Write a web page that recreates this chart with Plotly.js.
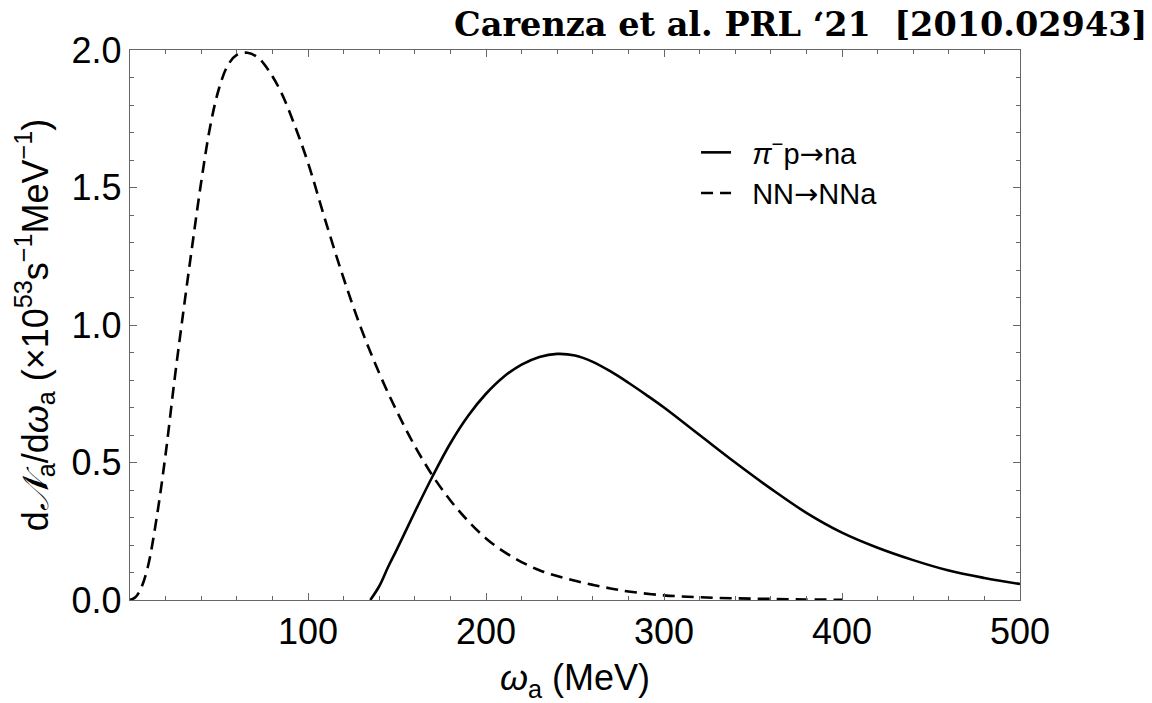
<!DOCTYPE html>
<html>
<head>
<meta charset="utf-8">
<script src="https://cdn.plot.ly/plotly-3.0.1.min.js"></script>
<style>html,body{margin:0;padding:0;background:#fff;}#chart{width:1152px;height:703px;}</style>
</head>
<body>
<div id="chart"></div>
<script>
// omega_a (MeV) and dN_a/domega_a (x10^53 s^-1 MeV^-1)
const nnOmega = [0, 3, 6, 10, 15, 20, 25, 30, 35, 40, 45, 50, 55, 60, 66, 72, 78, 85, 92, 100, 110, 120, 130, 140, 150, 160, 170, 180, 190, 200, 210, 220, 230, 240, 250, 260, 270, 280, 300, 320, 340, 360, 380, 400];
const nnRate  = [0, 0.01, 0.04, 0.12, 0.30, 0.53, 0.80, 1.05, 1.29, 1.52, 1.72, 1.86, 1.945, 1.982, 1.99, 1.972, 1.925, 1.845, 1.735, 1.59, 1.375, 1.17, 0.985, 0.825, 0.685, 0.56, 0.452, 0.362, 0.287, 0.224, 0.176, 0.138, 0.108, 0.087, 0.07, 0.055, 0.042, 0.031, 0.017, 0.010, 0.006, 0.004, 0.002, 0.001];

const piOmega = [135, 140, 145, 150, 160, 170, 180, 190, 200, 210, 220, 230, 240, 250, 260, 270, 280, 290, 300, 320, 340, 360, 380, 400, 420, 440, 460, 480, 500];
const piRate  = [0, 0.05, 0.12, 0.185, 0.32, 0.45, 0.57, 0.67, 0.75, 0.812, 0.856, 0.884, 0.895, 0.889, 0.866, 0.831, 0.79, 0.746, 0.70, 0.60, 0.50, 0.405, 0.317, 0.245, 0.19, 0.145, 0.107, 0.08, 0.058];

const xTicks = [100, 200, 300, 400, 500];
const yTicks = [0, 0.5, 1.0, 1.5, 2.0];

const arrow = '<span style="font-family:DejaVu Sans">→</span>';
const seriesNames = ['&nbsp;&nbsp;<i>π</i><sup>−</sup>p' + arrow + 'na', '&nbsp;&nbsp;NN' + arrow + 'NNa'];
const titleText = '<b>Carenza et al. PRL ‘21  [2010.02943]</b>';

const sans = 'Liberation Sans, Arial, Helvetica, sans-serif';

const traces = [
  {x: piOmega, y: piRate, mode: 'lines', name: seriesNames[0],
   line: {color: '#000', width: 2.6, shape: 'spline', smoothing: 1}},
  {x: nnOmega, y: nnRate, mode: 'lines', name: seriesNames[1],
   line: {color: '#000', width: 2.6, dash: '12px,7px', shape: 'spline', smoothing: 1}}
];

const axisCommon = {
  showgrid: false, zeroline: false, showline: true, linecolor: '#666', linewidth: 1.2,
  mirror: 'allticks', ticks: 'inside', ticklen: 7, tickwidth: 1, tickcolor: '#666',
  tickfont: {family: sans, size: 36, color: '#000'}
};

const layout = {
  width: 1152, height: 703,
  margin: {l: 130, r: 132, t: 50, b: 103},
  paper_bgcolor: '#fff', plot_bgcolor: '#fff',
  title: {text: titleText, xref: 'container', yref: 'container', x: 0.996, xanchor: 'right',
          y: 0.966, yanchor: 'middle', font: {family: 'DejaVu Serif, serif', size: 33.5, color: '#000'}},
  xaxis: Object.assign({}, axisCommon, {
    range: [0, 500], tickvals: xTicks, ticktext: xTicks.map(String),
    minor: {dtick: 20, tick0: 0, ticks: 'inside', ticklen: 4, tickcolor: '#666', tickwidth: 1},
    title: {text: '<i>ω</i><sub>a</sub> (MeV)', standoff: 14, font: {family: sans, size: 36, color: '#000'}}
  }),
  yaxis: Object.assign({}, axisCommon, {
    range: [0, 2.0], tickvals: yTicks, tickformat: '.1f',
    minor: {dtick: 0.1, tick0: 0, ticks: 'inside', ticklen: 4, tickcolor: '#666', tickwidth: 1},
    title: {text: 'd<i>𝒩</i><sub>a</sub>/d<i>ω</i><sub>a</sub> (×10<sup>53</sup>s<sup>−1</sup>MeV<sup>−1</sup>)',
            standoff: 12, font: {family: sans, size: 36, color: '#000'}}
  }),
  showlegend: true,
  legend: {x: 0.636, xanchor: 'left', y: 0.86, yanchor: 'top', bgcolor: 'rgba(0,0,0,0)',
           font: {family: sans, size: 29, color: '#000'}, itemwidth: 30, tracegroupgap: 0}
};

Plotly.newPlot('chart', traces, layout, {displayModeBar: false, staticPlot: true});
</script>
</body>
</html>
